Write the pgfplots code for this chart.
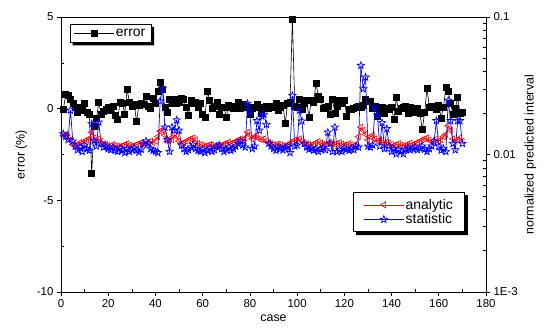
\documentclass[border=0pt]{standalone}
\usepackage{pgfplots}
\pgfplotsset{compat=1.18}
\usepackage{pgfplotstable}
\usepackage{fontspec}
\setmainfont{Liberation Sans}

\pgfdeclareplotmark{ostar}{%
 \pgfpathmoveto{\pgfpointpolar{90}{\pgfplotmarksize}}%
 \pgfpathlineto{\pgfpointpolar{126}{0.42\pgfplotmarksize}}%
 \pgfpathlineto{\pgfpointpolar{162}{\pgfplotmarksize}}%
 \pgfpathlineto{\pgfpointpolar{198}{0.42\pgfplotmarksize}}%
 \pgfpathlineto{\pgfpointpolar{234}{\pgfplotmarksize}}%
 \pgfpathlineto{\pgfpointpolar{270}{0.42\pgfplotmarksize}}%
 \pgfpathlineto{\pgfpointpolar{306}{\pgfplotmarksize}}%
 \pgfpathlineto{\pgfpointpolar{342}{0.42\pgfplotmarksize}}%
 \pgfpathlineto{\pgfpointpolar{18}{\pgfplotmarksize}}%
 \pgfpathlineto{\pgfpointpolar{54}{0.42\pgfplotmarksize}}%
 \pgfpathclose
 \pgfusepathqstroke}

\pgfplotstableread{
x err ana sta
1 -0.05 0.0137 0.0141
2 0.8 0.0140 0.0135
3 0.75 0.0135 0.0128
4 0.5 0.0128 0.0210
5 0.3 0.0118 0.0125
6 0.1 0.0115 0.0115
7 -0.2 0.0118 0.0108
8 0.05 0.0122 0.0113
9 -0.1 0.0120 0.0105
10 0.3 0.0125 0.0117
11 -0.2 0.0128 0.0110
12 -0.3 0.0130 0.0107
13 -3.5 0.0145 0.0167
14 -0.95 0.0132 0.0126
15 -0.55 0.0128 0.0115
16 0.35 0.0130 0.0172
17 -0.3 0.0125 0.0120
18 -0.15 0.0120 0.0113
19 -0.05 0.0118 0.0115
20 0.1 0.0116 0.0110
21 -0.1 0.0115 0.0108
22 0.15 0.0118 0.0113
23 -0.35 0.0116 0.0107
24 -0.6 0.0115 0.0105
25 0.35 0.0114 0.0111
26 0.3 0.0116 0.0107
27 -0.3 0.0118 0.0103
28 1.05 0.0120 0.0110
29 0.35 0.0117 0.0105
30 0.15 0.0115 0.0108
31 0.25 0.0116 0.0112
32 -0.7 0.0118 0.0107
33 0.2 0.0120 0.0104
34 0.3 0.0122 0.0109
35 0.25 0.0118 0.0120
36 0.65 0.0121 0.0125
37 0.15 0.0123 0.0120
38 0.0 0.0125 0.0110
39 0.55 0.0122 0.0107
40 0.3 0.0125 0.0105
41 0.95 0.0135 0.0103
42 1.45 0.0148 0.0245
43 1.05 0.0150 0.0300
44 0.05 0.0138 0.0158
45 -0.2 0.0125 0.0128
46 0.5 0.0130 0.0105
47 0.3 0.0128 0.0158
48 0.5 0.0140 0.0150
49 0.3 0.0135 0.0178
50 0.35 0.0125 0.0150
51 0.55 0.0120 0.0117
52 0.5 0.0122 0.0110
53 0.05 0.0125 0.0105
54 -0.35 0.0128 0.0108
55 0.45 0.0130 0.0113
56 0.3 0.0132 0.0118
57 0.35 0.0128 0.0110
58 0.05 0.0120 0.0107
59 0.3 0.0118 0.0105
60 -0.3 0.0117 0.0109
61 -0.45 0.0115 0.0103
62 0.95 0.0116 0.0107
63 0.45 0.0118 0.0111
64 0.0 0.0117 0.0105
65 0.15 0.0115 0.0108
66 0.35 0.0114 0.0115
67 -0.3 0.0116 0.0117
68 0.1 0.0117 0.0110
69 0.05 0.0119 0.0105
70 -0.45 0.0121 0.0108
71 0.2 0.0123 0.0113
72 0.1 0.0120 0.0107
73 0.0 0.0122 0.0110
74 0.15 0.0125 0.0115
75 0.35 0.0127 0.0120
76 0.0 0.0130 0.0125
77 0.25 0.0128 0.0117
78 0.15 0.0132 0.0113
79 0.05 0.0145 0.0235
80 -0.3 0.0138 0.0204
81 0.0 0.0130 0.0110
82 0.1 0.0135 0.0115
83 0.25 0.0138 0.0176
84 0.1 0.0130 0.0150
85 -0.25 0.0128 0.0190
86 0.05 0.0130 0.0196
87 0.15 0.0125 0.0165
88 0.0 0.0122 0.0120
89 0.15 0.0120 0.0115
90 0.1 0.0118 0.0110
91 0.3 0.0117 0.0107
92 -0.1 0.0119 0.0113
93 0.05 0.0118 0.0110
94 0.2 0.0116 0.0108
95 -0.8 0.0115 0.0112
96 0.3 0.0117 0.0115
97 0.35 0.0120 0.0103
98 4.9 0.0124 0.0268
99 0.15 0.0127 0.0115
100 0.1 0.0125 0.0117
101 0.5 0.0130 0.0210
102 -0.05 0.0126 0.0175
103 0.3 0.0122 0.0120
104 0.45 0.0120 0.0113
105 -0.45 0.0118 0.0109
106 0.45 0.0117 0.0111
107 0.35 0.0119 0.0107
108 1.4 0.0122 0.0110
109 0.65 0.0124 0.0105
110 0.5 0.0121 0.0109
111 0.0 0.0118 0.0112
112 0.1 0.0119 0.0108
113 0.15 0.0121 0.0145
114 -0.3 0.0122 0.0120
115 0.5 0.0120 0.0105
116 -0.25 0.0118 0.0158
117 0.15 0.0120 0.0105
118 0.45 0.0122 0.0108
119 0.3 0.0119 0.0105
120 0.45 0.0117 0.0111
121 -0.4 0.0118 0.0109
122 -0.05 0.0120 0.0107
123 -0.05 0.0118 0.0110
124 0.0 0.0116 0.0108
125 0.1 0.0118 0.0115
126 0.15 0.0135 0.0113
127 0.1 0.0158 0.0444
128 0.2 0.0150 0.0300
129 0.5 0.0140 0.0365
130 0.4 0.0128 0.0115
131 0.4 0.0135 0.0113
132 0.0 0.0138 0.0117
133 0.15 0.0130 0.0221
134 -0.4 0.0125 0.0192
135 -0.05 0.0128 0.0115
136 0.1 0.0122 0.0170
137 -0.25 0.0120 0.0110
138 0.0 0.0123 0.0154
139 -0.05 0.0121 0.0115
140 0.05 0.0118 0.0105
141 -0.6 0.0116 0.0110
142 0.6 0.0118 0.0101
143 -0.15 0.0120 0.0108
144 0.0 0.0117 0.0105
145 0.1 0.0115 0.0101
146 0.15 0.0117 0.0109
147 -0.25 0.0119 0.0111
148 0.1 0.0121 0.0108
149 -0.15 0.0118 0.0110
150 -0.2 0.0120 0.0113
151 0.0 0.0122 0.0108
152 -0.25 0.0125 0.0111
153 -1.15 0.0128 0.0115
154 -0.2 0.0130 0.0109
155 1.1 0.0132 0.0105
156 0.1 0.0127 0.0110
157 0.15 0.0124 0.0115
158 0.05 0.0122 0.0125
159 -0.05 0.0130 0.0176
160 0.2 0.0125 0.0115
161 -0.5 0.0128 0.0107
162 0.1 0.0135 0.0110
163 1.15 0.0140 0.0105
164 0.95 0.0162 0.0247
165 0.3 0.0150 0.0176
166 -0.3 0.0130 0.0120
167 0.0 0.0125 0.0108
168 0.6 0.0128 0.0176
169 -0.25 0.0132 0.0176
170 -0.2 0.0125 0.0120
}\data

\pgfplotsset{
  every axis/.append style={
    scale only axis, width=425bp, height=275bp,
    xmin=0, xmax=180,
    tick style={black, line width=0.6pt},
    tick align=outside,
    major tick length=4bp,
    minor tick length=-3bp,
    tick label style={font=\fontsize{11.5}{13}\selectfont},
    label style={font=\fontsize{12.5}{14}\selectfont},
    axis line style={line width=0.8pt},
  },
  mylegend/.style={
    legend style={draw=black, line width=0.6pt, fill=white,
      font=\fontsize{14}{15}\selectfont,
      inner xsep=4bp, inner ysep=3bp,
      nodes={inner sep=1.5bp}},
    legend cell align=left,
    legend image code/.code={\draw[mark repeat=2,mark phase=2] plot coordinates {(0bp,0bp) (20bp,0bp) (40bp,0bp)};},
  }
}

\newcommand\legshadow[1]{%
  \fill[black] ([yshift=-3bp]#1.north east) -- ([shift={(3bp,-3bp)}]#1.north east)
    -- ([shift={(3bp,-3bp)}]#1.south east) -- ([shift={(3bp,-3bp)}]#1.south west)
    -- ([xshift=3bp]#1.south west) -- (#1.south east) -- cycle;}

\begin{document}
\begin{tikzpicture}
\begin{axis}[
  name=ax1,
  ymin=-10, ymax=5,
  xtick={0,20,...,180},
  minor xtick={10,30,...,170},
  ytick={-10,-5,0,5},
  yticklabels={-10,-5,0,5},
  minor ytick={-7.5,-2.5,2.5},
  xticklabels={0,20,40,60,80,100,120,140,160,180},
  xtick pos=bottom, ytick pos=left,
  xlabel={case}, ylabel={error (\%)},
  ylabel style={yshift=3bp},
  mylegend,
  legend style={at={(0.02,0.975)}, anchor=north west, name=leg1},
]
\addplot[black, line width=0.6pt, mark=square*, mark size=3bp] table[x=x, y=err] {\data};
\addlegendentry{error}
\end{axis}
\begin{axis}[
  ymode=log, ymin=0.001, ymax=0.1,
  axis y line*=right, axis x line=none,
  ytick={0.001,0.01,0.1},
  yticklabels={1E-3,0.01,0.1},
  minor ytick={0.002,0.003,0.004,0.005,0.006,0.007,0.008,0.009,0.02,0.03,0.04,0.05,0.06,0.07,0.08,0.09},
  ylabel={normalized predicted interval},
  mylegend,
  legend style={at={(0.95,0.218)}, anchor=south east, name=leg2, inner ysep=5bp, inner xsep=10bp},
]
\addplot[red, line width=0.6pt, mark=triangle, mark size=3.5bp, mark options={rotate=90, solid}] table[x=x, y=ana] {\data};
\addlegendentry{analytic}
\addplot[blue, line width=0.7pt, mark=ostar, mark size=3.8bp] table[x=x, y=sta] {\data};
\addlegendentry{statistic}
\end{axis}
\legshadow{leg1}
\legshadow{leg2}
\pgfresetboundingbox
\path[use as bounding box] ([shift={(-61bp,-43bp)}]ax1.south west) rectangle ([shift={(59bp,17bp)}]ax1.north east);
\end{tikzpicture}
\end{document}
